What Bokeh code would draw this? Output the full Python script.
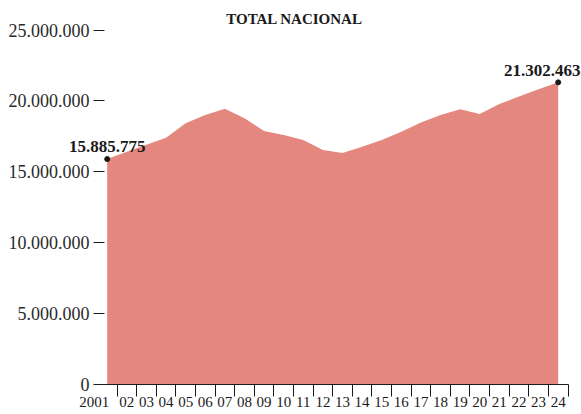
from bokeh.plotting import figure
from bokeh.models import Range1d, FixedTicker, LinearAxis, ColumnDataSource, LabelSet, Label
from bokeh.embed import file_html
from bokeh.resources import INLINE

years = list(range(2001, 2025))
totals = [15885775, 16400000, 16900000, 17390000, 18410000, 19000000, 19430000,
          18770000, 17870000, 17580000, 17230000, 16520000, 16310000, 16760000,
          17230000, 17820000, 18460000, 19000000, 19400000, 19070000, 19780000,
          20300000, 20820000, 21302463]
x_labels = ["2001"] + [str(y)[2:] for y in years[1:]]
y_ticks = [0, 5000000, 10000000, 15000000, 20000000, 25000000]
y_labels = ["0", "5.000.000", "10.000.000", "15.000.000", "20.000.000", "25.000.000"]
title_text = "TOTAL NACIONAL"

FONT = "Liberation Serif"
INK = "#1a1a1a"
FILL = "#e4877f"

# layout (pixels on the 581x414 canvas)
W, H = 581, 414
PX_L, PX_R = 96.9, 567.5      # pixel x of the band edges (first/last year -/+ 0.5)
PY_TOP, PY_0 = 29.5, 383.5    # pixel y of top tick and of zero

x_lo, x_hi = years[0] - 0.5, years[-1] + 0.5
xs = (PX_R - PX_L) / (x_hi - x_lo)
y_lo, y_hi = y_ticks[0], y_ticks[-1]
ys = (PY_0 - PY_TOP) / (y_hi - y_lo)
x_start, x_end = x_lo - PX_L / xs, x_hi + (W - PX_R) / xs
y_end, y_start = y_hi + PY_TOP / ys, y_lo - (H - PY_0) / ys

p = figure(width=W, height=H, output_backend="svg", toolbar_location=None,
           x_range=Range1d(x_start, x_end), y_range=Range1d(y_start, y_end),
           x_axis_location=None, y_axis_location=None, min_border=0)
p.outline_line_color = None
p.xgrid.visible = False
p.ygrid.visible = False
p.background_fill_color = "white"
p.border_fill_color = "white"

p.varea(x=years, y1=[0] * len(years), y2=totals, fill_color=FILL, fill_alpha=1.0)

# x axis at zero: labels centred on years, separator ticks halfway between
xa = LinearAxis(fixed_location=0, bounds=(x_lo, x_hi))
xa.ticker = FixedTicker(ticks=years[1:], minor_ticks=[y + 0.5 for y in years])
xa.major_label_overrides = {y: lab for y, lab in zip(years[1:], x_labels[1:])}
xa.major_tick_line_color = None
xa.major_tick_out = 0
xa.major_tick_in = 0
xa.minor_tick_out = 12
xa.minor_tick_in = 0
xa.minor_tick_line_color = INK
xa.axis_line_color = INK
xa.major_label_standoff = 1
xa.major_label_text_font = FONT
xa.major_label_text_font_size = "15px"
xa.major_label_text_color = INK
p.add_layout(xa, "below")

p.add_layout(Label(x=years[0], y=0, text=x_labels[0], x_offset=2, y_offset=-13,
                   text_align="right", text_baseline="top",
                   text_font=FONT, text_font_size="15px", text_color=INK))

# y axis at the left band edge
ya = LinearAxis(fixed_location=x_lo)
ya.ticker = FixedTicker(ticks=y_ticks)
ya.major_label_overrides = {v: l for v, l in zip(y_ticks, y_labels)}
ya.axis_line_color = None
ya.major_tick_out = 4
ya.major_tick_in = 7
ya.major_tick_line_color = INK
ya.minor_tick_line_color = None
ya.major_label_standoff = 4
ya.major_label_text_font = FONT
ya.major_label_text_font_size = "18px"
ya.major_label_text_color = "#2a2a2a"
p.add_layout(ya, "left")

# title
p.add_layout(Label(x=x_start + 294 / xs, y=y_end - 18 / ys, text=title_text,
                   text_align="center", text_baseline="middle",
                   text_font=FONT, text_font_size="15px", text_font_style="bold",
                   text_color=INK))

# end-point annotations
ends = ColumnDataSource(dict(
    x=[years[0], years[-1]],
    y=[totals[0], totals[-1]],
    label=[f"{totals[0]:,}".replace(",", "."), f"{totals[-1]:,}".replace(",", ".")],
    xo=[0, -16],
    yo=[7, 6],
))
p.scatter("x", "y", source=ends, size=5, color=INK)
p.add_layout(LabelSet(x="x", y="y", text="label", source=ends, x_offset="xo", y_offset="yo",
                      text_align="center", text_baseline="alphabetic",
                      text_font=FONT, text_font_size="17px", text_font_style="bold",
                      text_color=INK))

open("out.html", "w").write(file_html(p, INLINE))
